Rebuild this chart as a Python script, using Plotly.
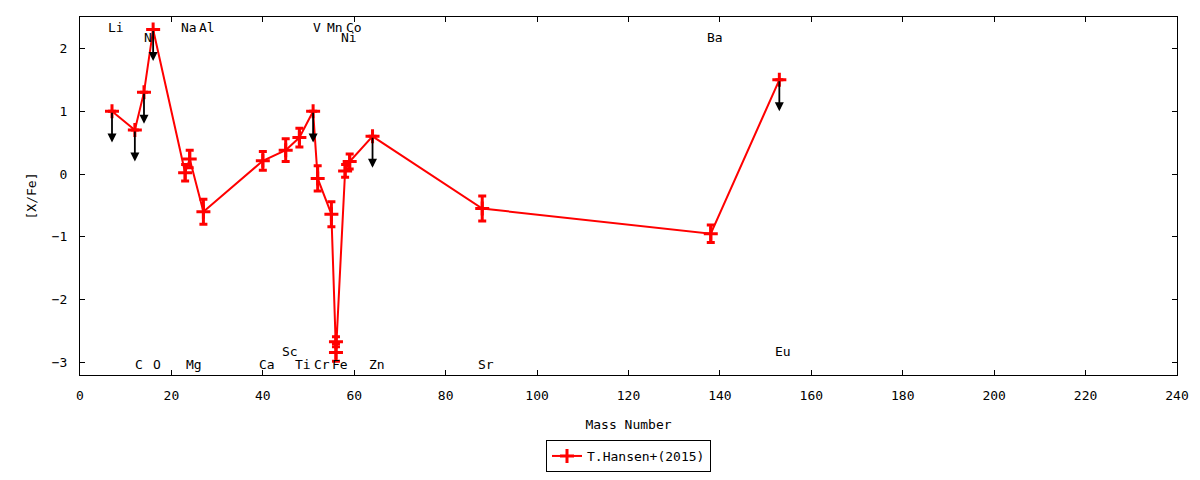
import plotly.graph_objects as go

# T.Hansen+(2015) abundance pattern, ordered by mass number
elements = ["Li", "C", "N", "O", "Na", "Mg", "Al", "Ca", "Sc", "Ti", "V", "Cr",
            "Mn", "Fe", "Fe", "Ni", "Co", "Zn", "Sr", "Ba", "Eu"]
mass = [7, 12, 14, 16, 23, 24, 27, 40, 45, 48, 51, 52,
        55, 56, 56, 58, 59, 64, 88, 138, 153]
xfe = [1.0, 0.7, 1.3, 2.3, 0.02, 0.24, -0.6, 0.21, 0.38, 0.58, 1.0, -0.07,
       -0.64, -2.67, -2.84, 0.05, 0.2, 0.6, -0.55, -0.95, 1.5]
err = [0, 0, 0, 0, 0.13, 0.14, 0.2, 0.15, 0.18, 0.15, 0, 0.2,
       0.2, 0.08, 0.14, 0.1, 0.12, 0, 0.2, 0.14, 0]
upper = [1, 1, 1, 1, 0, 0, 0, 0, 0, 0, 1, 0,
         0, 0, 0, 0, 0, 1, 0, 0, 1]

# element labels; rows 1/2 at top, -1/-2 at bottom
label_names = ["Li", "C", "N", "O", "Na", "Mg", "Al", "Ca", "Sc", "Ti", "V", "Cr",
               "Mn", "Fe", "Co", "Ni", "Zn", "Sr", "Ba", "Eu"]
label_mass = [7, 12, 14, 16, 23, 24, 27, 40, 45, 48, 51, 52,
              55, 56, 59, 58, 64, 88, 138, 153]
label_row = [1, -1, 2, -1, 1, -1, 1, -1, -2, -1, 1, -1,
             1, -1, 1, 2, -1, -1, 2, -2]
row_y = {1: 2.34, 2: 2.18, -1: -3.04, -2: -2.82}

FONT = "DejaVu Sans Mono"
RED = "#ff0000"

fig = go.Figure()
fig.add_trace(go.Scatter(
    x=mass, y=xfe, mode="lines+markers", name="T.Hansen+(2015)",
    line=dict(color=RED, width=2),
    marker=dict(symbol="cross-thin", size=10, color=RED,
                line=dict(color=RED, width=3)),
    error_y=dict(type="data", array=err, visible=True, color=RED,
                 thickness=3, width=4),
))

# upper limits: black arrows pointing down
for m, v, u in zip(mass, xfe, upper):
    if u:
        fig.add_annotation(x=m, y=v - 0.5, ax=m, ay=v, xref="x", yref="y",
                           axref="x", ayref="y", text="", showarrow=True,
                           arrowhead=2, arrowsize=1, arrowwidth=1.8,
                           arrowcolor="black", standoff=0, startstandoff=0)

for name, m, r in zip(label_names, label_mass, label_row):
    fig.add_annotation(x=m, y=row_y[r], text=name, showarrow=False,
                       xshift=4, font=dict(family=FONT, size=13, color="black"))

axis_style = dict(showline=True, linecolor="black", linewidth=1, mirror="ticks",
                  ticks="inside", ticklen=5, tickcolor="black", showgrid=False,
                  zeroline=False, automargin=False,
                  tickfont=dict(family=FONT, size=13, color="black"))

fig.update_xaxes(range=[0, 240], dtick=20, ticklabelstandoff=8, title=dict(
    text="Mass Number", font=dict(family=FONT, size=13, color="black"), standoff=18),
    **axis_style)
fig.update_yaxes(range=[-3.2, 2.5], dtick=1, ticklabelstandoff=9, title=dict(
    text="[X/Fe]", font=dict(family=FONT, size=13, color="black"), standoff=12),
    **axis_style)

# page body adds an 8px offset, so the figure is a bit smaller than the window
fig.update_layout(
    width=1184, height=464,
    margin=dict(l=72, r=15, t=9, b=97),
    plot_bgcolor="white", paper_bgcolor="white",
    font=dict(family=FONT, size=13, color="black"),
    showlegend=True,
    legend=dict(orientation="h", x=0.5, xanchor="center", xref="paper",
                y=0.0, yanchor="bottom", yref="container",
                bordercolor="black", borderwidth=1,
                font=dict(family=FONT, size=13, color="black")),
)

fig.write_html("out.html")
